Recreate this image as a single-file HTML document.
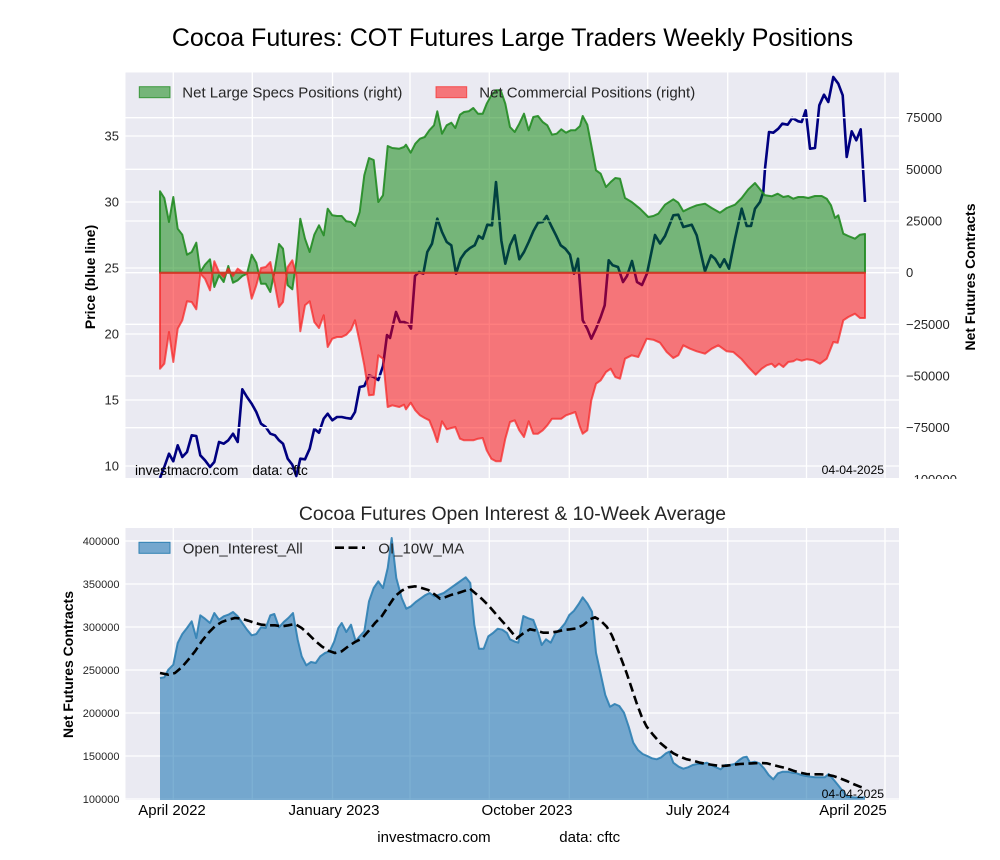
<!DOCTYPE html>
<html><head><meta charset="utf-8"><style>
html,body{margin:0;padding:0;background:#fff;}
svg{display:block;font-family:"Liberation Sans",Arial,sans-serif;}
</style></head><body>
<svg width="1000" height="860" viewBox="0 0 1000 860" xmlns="http://www.w3.org/2000/svg">
<defs>
<clipPath id="ct"><rect x="125.5" y="72.5" width="773.5" height="405.5"/></clipPath>
<clipPath id="cb"><rect x="125.5" y="528" width="773.5" height="272"/></clipPath>
</defs>
<rect x="0" y="0" width="1000" height="860" fill="#fff"/>
<text x="512.5" y="46" font-size="25" text-anchor="middle" fill="#000">Cocoa Futures: COT Futures Large Traders Weekly Positions</text>

<!-- TOP CHART -->
<rect x="125.5" y="72.5" width="773.5" height="405.5" fill="#EAEAF2"/>
<g stroke="#fff" stroke-width="1.3">
<line x1="125.5" x2="899" y1="136" y2="136"/><line x1="125.5" x2="899" y1="202" y2="202"/><line x1="125.5" x2="899" y1="268" y2="268"/><line x1="125.5" x2="899" y1="334" y2="334"/><line x1="125.5" x2="899" y1="400" y2="400"/><line x1="125.5" x2="899" y1="466" y2="466"/>
<line y1="72.5" y2="478" x1="173.3" x2="173.3"/><line y1="72.5" y2="478" x1="252.3" x2="252.3"/><line y1="72.5" y2="478" x1="332.5" x2="332.5"/><line y1="72.5" y2="478" x1="410" x2="410"/><line y1="72.5" y2="478" x1="489.3" x2="489.3"/><line y1="72.5" y2="478" x1="569.3" x2="569.3"/><line y1="72.5" y2="478" x1="647.7" x2="647.7"/><line y1="72.5" y2="478" x1="727.7" x2="727.7"/><line y1="72.5" y2="478" x1="806.5" x2="806.5"/><line y1="72.5" y2="478" x1="885" x2="885"/>
</g>
<g clip-path="url(#ct)">
<polyline fill="none" stroke="#000080" stroke-width="2.6" stroke-linejoin="round" points="160,478 164.3,467 169,453.7 173.3,461.3 177.7,445.3 182.3,457 187,452 191.7,435.3 196.3,436 200.3,455.3 205,460.3 210,467 214.3,462 219,442 223.7,443.7 228.3,440.3 233,433.7 237.7,442 242.3,389.3 247,397 251.7,403.7 256.3,412 261,423.7 265.7,427 270.3,433.7 275,435.3 279,440.3 283,443.7 287.7,458.7 292.3,464.7 296.3,476 300.3,458.7 305,459.3 309.7,448.7 314.3,428.7 319,432.7 323.7,418.7 327.7,413.7 332.3,420.3 337,417 341.7,417 346.3,418 351,418.7 355,412 359.7,387 364.3,386 369,375.3 373.7,377 378.3,380 383,366 387,335 390,338 396,312 400,322 404,322 408,323.7 411,328.5 415,276 419,272 423.3,273.7 427.3,252 432,243.7 437.3,218.7 442,232 446.7,242 451.3,245.3 456,273.7 460.7,258.7 465.3,252 470,248 474.7,245.3 478.7,236 482.7,238.7 487.3,224.7 492,225.3 496,182 501.3,240.3 505.3,263.7 510,245.3 514.7,235.3 519.3,259.3 524,252 528.7,242 533.3,231.3 538,222.7 542.7,222 546.7,216 551.3,226 556,235.3 560.7,245.3 565.3,248.7 570,254.7 574,273.7 578,258.7 582.7,320.3 587.3,328.7 591.3,338.7 596,328.7 600.7,317 604.7,305.3 608.7,260.3 612.7,265.3 618,267 623,282 627,276 632,261 637,282 642,285 647,273.5 655,235 660,243.5 665,236 673.3,215.3 678.3,214.7 683.3,227 691.7,224.7 696.7,235.3 705,271.3 711,255.3 715,258.7 720,267 724.3,259.3 729,268.7 735,238.7 741.7,208.7 746.7,226 751,226 755,208.7 760,202 763.3,192 765,168.7 769,132 773.3,132.7 778.3,128.7 782.3,123.7 787.7,124.7 792.3,118 798.3,121.3 801.7,122 805.7,110.3 810,148.7 815,148 819.3,105.3 824,94.7 828.3,102 833.3,77 838.3,83.7 842.7,95.3 846.7,157 851.7,131.3 856.3,140.3 860.7,129.3 865,202"/>
</g>
<g stroke="#fff" stroke-width="1.3">
<line x1="125.5" x2="899" y1="117.7" y2="117.7"/><line x1="125.5" x2="899" y1="169.3" y2="169.3"/><line x1="125.5" x2="899" y1="221" y2="221"/><line x1="125.5" x2="899" y1="272.7" y2="272.7"/><line x1="125.5" x2="899" y1="324.3" y2="324.3"/><line x1="125.5" x2="899" y1="376" y2="376"/><line x1="125.5" x2="899" y1="427.7" y2="427.7"/>
</g>
<g clip-path="url(#ct)">
<path fill="rgb(0,128,0)" fill-opacity="0.5" stroke="rgb(34,139,34)" stroke-opacity="0.9" stroke-width="2" stroke-linejoin="round" d="M160,272.7 L160,191.3 164.3,198 169,222 173.3,197 177.7,228.7 182.3,234.7 187,254.7 191.7,252 196.3,242.7 200.3,272 205,264.7 210,259.3 214.3,287 219,275.3 223.7,282 228.3,266 233,282.7 237.7,280.3 242.3,276 247,273.7 251.7,254.7 256.3,262.7 261,283.7 265.7,283.7 270.3,292 275,268.7 279,244 283,248.7 287.7,285.3 292.3,289.3 296.3,261.3 300.3,218.7 305,238.7 309.7,252 314.3,234.7 319,225.3 323.7,235.3 327.7,208.7 332.3,215.3 337,216 341.7,216 346.3,221.3 351,222 355,226 359.7,212 364.3,175.3 369,158 373.7,160 378.3,202 383,195.3 387.7,146 392.3,148 399.3,148.7 404,147 406,144.7 410.7,152.7 415.3,143.7 420,138.7 424.7,137 429.3,130.3 434,125.3 437.3,111.3 442,133.7 446.7,125.3 451.3,122.7 455.3,128 460,114.7 464,112 468.7,111.3 473.3,108 478,113.7 482.7,113.7 486.7,103.7 491.3,95.3 496,90.3 500.7,90.3 505.3,103.7 510,127 514.7,132 519.3,123.7 524,113.7 528.7,130.3 533.3,117 538,116 542.7,122 547.3,125.3 552,134.7 556.7,133.7 561.3,129.3 566,132.7 570.7,130.3 575.3,130.3 580,126 582.7,116 587.3,124.7 591.3,145.3 596,170.3 600.7,173.7 606,187 610.7,182 615.3,178 620,178.7 625,198 631.7,202 640,208.7 648.3,217 653.3,216 658.3,213.7 665,204.7 673.3,199.3 678.3,202.7 683.3,211.3 690,208 696.7,205.3 705,203.7 711.7,208 720,212.7 726.7,208 735,204.7 741.7,198 748.3,189.3 755,183 760,189.3 765,195.3 771.7,196.3 777.7,193.7 783.3,197 788.3,196 793.3,198.7 798.3,197 803.3,197 808.3,198 815,196 821.7,196 826.7,198.7 831,205.3 835,218 838.3,215.3 843.3,233.7 848.3,236 855,238.7 860,234.7 865,234 L865,272.7 Z"/>
<path fill="rgb(255,0,0)" fill-opacity="0.5" stroke="rgb(245,40,40)" stroke-opacity="0.75" stroke-width="2" stroke-linejoin="round" d="M160,272.7 L160,368.7 164.3,363.7 169,332 173.3,362 177.7,328.7 182.3,320.3 187,301.3 191.7,302 196.3,309.3 200.3,273.7 205,278.7 210,290.3 214.3,261.3 219,272 223.7,277 228.3,268.7 233,276 237.7,268.7 242.3,272 247,273.7 251.7,298.7 256.3,285.3 261,268 265.7,267 270.3,262 275,285.3 279,307 283,302 287.7,267 292.3,260.3 296.3,275.3 300.3,331.3 305,305.3 309.7,301.3 314.3,322 319,328 323.7,315.3 327.7,347 332.3,338.7 337,337 341.7,337 346.3,334.7 351,329.7 355,320.3 359.7,342 364.3,365.3 369,395.3 373.7,394.7 378.3,355.3 383,358.7 387.7,407 392.3,405.3 399.3,407 404,404.7 406,409.3 410.7,402.7 415.3,410.3 420,415.3 424.7,418 429.3,420.3 434,432 437.3,442 442,421.3 446.7,429.3 451.3,428 455.3,427 460,438.7 464,440.3 468.7,440.3 473.3,440.3 478,438.7 482.7,438 486.7,450.3 491.3,458.7 496,461.3 500.7,461.3 505.3,438.7 510,422 514.7,420.3 519.3,430.3 524,437 528.7,421.3 533.3,433.7 538,433.7 542.7,430.3 547.3,425.3 552,418.7 556.7,418.7 561.3,418.7 566,415.3 570.7,413.7 575.3,412 580,427 582.7,433.7 587.3,430.3 591.3,400.3 596,383.7 600.7,380.3 606,372 610.7,368.7 615.3,377 620,378.7 625,358.7 631.7,355.3 638.3,357 646.7,338.7 653.3,339.7 660,342.7 666.7,352 673.3,358 678.3,355.3 683.3,345.3 690,348.7 696.7,351.3 705,353.7 711.7,348.7 718.3,345.3 726.7,351.3 733.3,352 741.7,359.3 748.3,367 755.7,374.7 761.7,368.7 766.7,365.3 771.7,363.7 775,367 779,363.7 783.3,367 788.3,362 793.3,361.3 796.7,359.3 801.7,360.7 806.7,359.3 813.3,360.3 820,363.7 826.7,358.7 833.3,342 837.7,342.7 843.3,320.3 848.3,317 855,313.7 860,318 865,318 L865,272.7 Z"/>
</g>
<!-- top legend -->
<rect x="139.3" y="86.7" width="30.7" height="11" fill="rgb(0,128,0)" fill-opacity="0.5" stroke="rgb(34,139,34)" stroke-opacity="0.8" stroke-width="1"/>
<text x="182.3" y="97.5" font-size="15" fill="#262626">Net Large Specs Positions (right)</text>
<rect x="436" y="86.7" width="30.7" height="11" fill="rgb(255,0,0)" fill-opacity="0.5" stroke="rgb(245,40,40)" stroke-opacity="0.7" stroke-width="1"/>
<text x="479.3" y="97.5" font-size="15" fill="#262626">Net Commercial Positions (right)</text>
<text x="135" y="475" font-size="13.7" fill="#000">investmacro.com</text>
<text x="252.3" y="475" font-size="13.7" fill="#000">data: cftc</text>
<text x="884" y="474" font-size="12.2" fill="#000" text-anchor="end">04-04-2025</text>
<!-- left ticks -->
<g font-size="13" fill="#262626" text-anchor="end">
<text x="119" y="140.5">35</text><text x="119" y="206.5">30</text><text x="119" y="272.5">25</text><text x="119" y="338.5">20</text><text x="119" y="404.5">15</text><text x="119" y="470.5">10</text>
</g>
<g font-size="13" fill="#262626">
<text x="906" y="122.2">75000</text><text x="906" y="173.8">50000</text><text x="906" y="225.5">25000</text><text x="906" y="277.2">0</text><text x="906" y="328.8">−25000</text><text x="906" y="380.5">−50000</text><text x="906" y="432.2">−75000</text><text x="906" y="483.8">−100000</text>
</g>
<rect x="900" y="479" width="100" height="30" fill="#fff"/>
<text transform="translate(95,277) rotate(-90)" font-size="14" font-weight="bold" text-anchor="middle" fill="#000">Price (blue line)</text>
<text transform="translate(975,277) rotate(-90)" font-size="14" font-weight="bold" text-anchor="middle" fill="#000">Net Futures Contracts</text>

<!-- BOTTOM CHART -->
<text x="512.5" y="520" font-size="19.4" text-anchor="middle" fill="#262626">Cocoa Futures Open Interest &amp; 10-Week Average</text>
<rect x="125.5" y="528" width="773.5" height="272" fill="#EAEAF2"/>
<g stroke="#fff" stroke-width="1.3">
<line x1="125.5" x2="899" y1="541" y2="541"/><line x1="125.5" x2="899" y1="584" y2="584"/><line x1="125.5" x2="899" y1="627" y2="627"/><line x1="125.5" x2="899" y1="670" y2="670"/><line x1="125.5" x2="899" y1="713" y2="713"/><line x1="125.5" x2="899" y1="756" y2="756"/><line x1="125.5" x2="899" y1="799" y2="799"/>
<line y1="528" y2="800" x1="173.3" x2="173.3"/><line y1="528" y2="800" x1="252.3" x2="252.3"/><line y1="528" y2="800" x1="332.5" x2="332.5"/><line y1="528" y2="800" x1="410" x2="410"/><line y1="528" y2="800" x1="489.3" x2="489.3"/><line y1="528" y2="800" x1="569.3" x2="569.3"/><line y1="528" y2="800" x1="647.7" x2="647.7"/><line y1="528" y2="800" x1="727.7" x2="727.7"/><line y1="528" y2="800" x1="806.5" x2="806.5"/><line y1="528" y2="800" x1="885" x2="885"/>
</g>
<g clip-path="url(#cb)">
<path fill="#1f77b4" fill-opacity="0.58" stroke="none" d="M160,800 L160,678 164.3,677.3 168.3,669.7 173.3,664.7 177.7,643 182.3,634 187,628 191.7,621.3 196.3,638 200.3,615.3 205,618.7 210,623 214.3,613 219,619.7 223.7,616.3 228.3,614.7 233,612 237.7,616.3 242.3,623 247,629.7 251.7,635.3 256.3,634 261,627.3 265.7,628 270.3,615.3 274.3,614 279,627.3 283.7,622 288.3,618 293,613 297.7,639.7 301.7,656.3 306.3,665.3 311,662 315.7,663 320.3,656.3 325,653 329.7,651.3 334.3,641.3 338.3,628 341.7,623 346.3,632 351,624.7 355.7,641.3 359.7,636.3 364.3,631.3 369,601.3 373.7,588 378.3,581.3 383,588 387.7,568 391.7,538 396.3,578 401.7,598 406.3,608.7 411,606.3 415.7,602 420.3,598.7 425,595.3 429.7,593 434.3,596.3 439,594.7 443.7,593 448.3,589.7 453,586.3 457.7,583 462.3,579.7 465.7,577.3 470.3,583 474.3,624.7 479,648.7 483.7,648.7 488.3,636.3 493,633 497.7,628.7 502.3,629.7 507,633 510,639.3 515,641.7 518.3,642.7 523.3,616 528.3,618.3 533.3,620 538.3,633.3 541.7,645 546,639.3 550.7,642.7 555.3,633.3 560,629.3 565,623.3 569.3,615 574,610.7 578.7,604 582.7,597.3 587.3,603.3 592,611.7 596,652.7 600.7,674 605.3,695 610,706.7 614.7,704 619.3,706 624,712.7 628.7,726.7 633.3,742.7 638,750 642.7,754 647.3,756 652,758.3 656.7,759.3 661.3,757.3 666,753.3 669.3,751.7 673.3,762.7 678.7,766.7 683.3,768.7 688,767.3 692.7,765 697.3,764 702,764 706.7,762.7 711.3,765 716,767.3 720.7,769.3 725.3,765 730,765 734.7,764 739.3,760 743.3,757.3 746.7,756.7 750,762.7 754.7,761.7 759.3,763.3 764,768.3 768.7,775 773.3,779.3 778,773.3 782.7,771.7 787.3,771.7 792,772.7 796.7,773.3 801.3,775 806,776 810.7,776.7 815.3,777.3 820,777.3 824.7,777.3 828.7,774 833.3,779.3 838,785 843.3,791.7 846.7,796.7 855,797.5 865,797.5 L865,800 Z"/>
<polyline fill="none" stroke="#2f80b2" stroke-opacity="0.9" stroke-width="2" stroke-linejoin="round" points="160,678 164.3,677.3 168.3,669.7 173.3,664.7 177.7,643 182.3,634 187,628 191.7,621.3 196.3,638 200.3,615.3 205,618.7 210,623 214.3,613 219,619.7 223.7,616.3 228.3,614.7 233,612 237.7,616.3 242.3,623 247,629.7 251.7,635.3 256.3,634 261,627.3 265.7,628 270.3,615.3 274.3,614 279,627.3 283.7,622 288.3,618 293,613 297.7,639.7 301.7,656.3 306.3,665.3 311,662 315.7,663 320.3,656.3 325,653 329.7,651.3 334.3,641.3 338.3,628 341.7,623 346.3,632 351,624.7 355.7,641.3 359.7,636.3 364.3,631.3 369,601.3 373.7,588 378.3,581.3 383,588 387.7,568 391.7,538 396.3,578 401.7,598 406.3,608.7 411,606.3 415.7,602 420.3,598.7 425,595.3 429.7,593 434.3,596.3 439,594.7 443.7,593 448.3,589.7 453,586.3 457.7,583 462.3,579.7 465.7,577.3 470.3,583 474.3,624.7 479,648.7 483.7,648.7 488.3,636.3 493,633 497.7,628.7 502.3,629.7 507,633 510,639.3 515,641.7 518.3,642.7 523.3,616 528.3,618.3 533.3,620 538.3,633.3 541.7,645 546,639.3 550.7,642.7 555.3,633.3 560,629.3 565,623.3 569.3,615 574,610.7 578.7,604 582.7,597.3 587.3,603.3 592,611.7 596,652.7 600.7,674 605.3,695 610,706.7 614.7,704 619.3,706 624,712.7 628.7,726.7 633.3,742.7 638,750 642.7,754 647.3,756 652,758.3 656.7,759.3 661.3,757.3 666,753.3 669.3,751.7 673.3,762.7 678.7,766.7 683.3,768.7 688,767.3 692.7,765 697.3,764 702,764 706.7,762.7 711.3,765 716,767.3 720.7,769.3 725.3,765 730,765 734.7,764 739.3,760 743.3,757.3 746.7,756.7 750,762.7 754.7,761.7 759.3,763.3 764,768.3 768.7,775 773.3,779.3 778,773.3 782.7,771.7 787.3,771.7 792,772.7 796.7,773.3 801.3,775 806,776 810.7,776.7 815.3,777.3 820,777.3 824.7,777.3 828.7,774 833.3,779.3 838,785 843.3,791.7 846.7,796.7 855,797.5 865,797.5"/>
<polyline fill="none" stroke="#000" stroke-width="2.6" stroke-dasharray="9,4.5" points="160,673 168.3,674.7 175,673 181.7,667.3 188.3,659.7 195,651.3 201.7,641.3 208.3,633 215,626.3 221.7,622 228.3,619.7 235,618 241.7,618.7 248.3,620.7 255,623 261.7,624.7 268.3,625.3 275,625.3 281.7,626.3 288.3,625.3 295,624 301.7,628 308.3,634 315,640.7 321.7,646.3 328.3,650.7 335,653 341.7,651.3 348.3,646.3 355,642 361.7,638.7 368.3,631.3 375,623 381.7,616.3 388.3,606.3 395,596.3 401.7,590.7 408.3,587.3 415,586.3 421.7,588 428.3,590 435,594.7 440,598.7 445,597.3 451.7,594.7 458.3,593 465,590.7 470,588.7 475,593 481.7,598.7 488.3,605.3 495,613 501.7,620.7 508.3,628 516.7,638.3 523.3,633.3 530,629.3 536.7,630.7 543.3,632.7 550,632.7 556.7,631.7 563.3,630 570,629.3 576.7,628.3 583.3,625 590,619.3 595,617.3 600,620 606.7,626.7 611.7,635 616.7,646.7 621.7,660 626.7,673.3 631.7,688.3 636.7,703.3 641.7,716.7 646.7,726.7 653.3,735 660,742.7 666.7,748.3 673.3,753.3 680,756.7 686.7,759.3 693.3,760.7 700,762.7 706.7,764 713.3,765 720,766 726.7,765.7 733.3,764.7 740,764 746.7,763.7 753.3,763.3 760,763 766.7,763.3 773.3,765 780,766.7 786.7,768.3 793.3,770.7 800,772.7 806.7,774 813.3,774.3 820,774.3 826.7,774.7 833.3,776 840,778.3 846.7,781 853.3,784 860,786.7 865,788.3"/>
</g>
<!-- bottom legend -->
<rect x="139" y="542.3" width="31" height="11" fill="#1f77b4" fill-opacity="0.58" stroke="#2f80b2" stroke-width="1"/>
<text x="182.7" y="553.3" font-size="15" fill="#262626">Open_Interest_All</text>
<line x1="335" x2="365" y1="547.7" y2="547.7" stroke="#000" stroke-width="2.6" stroke-dasharray="9,4.5"/>
<text x="378.3" y="553.3" font-size="15" fill="#262626">OI_10W_MA</text>
<text x="884" y="798" font-size="12.2" fill="#000" text-anchor="end">04-04-2025</text>
<g font-size="11" fill="#262626" text-anchor="end">
<text x="119.5" y="545">400000</text><text x="119.5" y="588">350000</text><text x="119.5" y="631">300000</text><text x="119.5" y="674">250000</text><text x="119.5" y="717">200000</text><text x="119.5" y="760">150000</text><text x="119.5" y="803">100000</text>
</g>
<text transform="translate(73,664.5) rotate(-90)" font-size="14" font-weight="bold" text-anchor="middle" fill="#000">Net Futures Contracts</text>
<g font-size="15" fill="#000" text-anchor="middle">
<text x="172" y="815">April 2022</text><text x="334" y="815">January 2023</text><text x="527" y="815">October 2023</text><text x="698" y="815">July 2024</text><text x="853" y="815">April 2025</text>
</g>
<text x="377.3" y="842" font-size="15" fill="#000">investmacro.com</text>
<text x="559.3" y="842" font-size="15" fill="#000">data: cftc</text>
</svg>
</body></html>
